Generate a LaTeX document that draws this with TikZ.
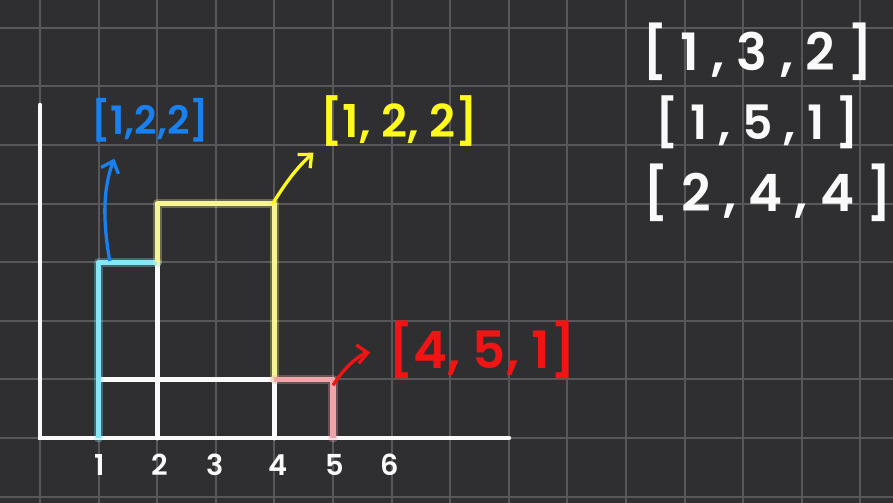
\documentclass[tikz,border=0pt]{standalone}
\usepackage{fontspec}
\setmainfont{Poppins}[BoldFont={Poppins SemiBold}]
\usetikzlibrary{arrows.meta}
\definecolor{board}{RGB}{47,46,49}
\definecolor{gridline}{RGB}{88,88,90}
\definecolor{chalk}{RGB}{250,250,250}
\definecolor{penblue}{RGB}{25,128,240}
\definecolor{penyellow}{RGB}{255,250,30}
\definecolor{penred}{RGB}{240,20,20}
\definecolor{hicyan}{RGB}{135,230,245}
\definecolor{hiyellow}{RGB}{245,245,150}
\definecolor{hired}{RGB}{240,165,170}
\tikzstyle{outline} = [line width=2.4pt, draw=chalk, line cap=round]
\tikzstyle{glow} = [line width=4.5pt, opacity=0.3, line cap=round, line join=round]
\tikzstyle{marker} = [line width=2.6pt, line join=round]
\tikzstyle{arrow} = [line width=1.6pt, -{Straight Barb[length=5pt,width=9pt]}]
\tikzstyle{tag} = [inner sep=0pt]
\tikzstyle{tick} = [text=chalk, font=\bfseries\fontsize{14}{14}\selectfont]
\tikzstyle{row} = [text=chalk, inner sep=0pt]

\begin{document}
\begin{tikzpicture}

      \fill [board] (-0.683,-1.109) rectangle (14.556,7.474);
      \useasboundingbox (-0.683,-1.109) rectangle (14.556,7.474);
      \foreach \i in {0,...,14} \draw [gridline, line width=1pt] (\i,-1.109) -- (\i,7.474);
      \foreach \j in {-1,...,7} \draw [gridline, line width=1pt] (-0.683,\j) -- (14.556,\j);

      % axes and white outline
      \draw [outline] (0,5.68) -- (0,0) -- (8,0);
      \draw [outline] (1,1) -- (4,1);
      \draw [outline] (2,0) -- (2,3);
      \draw [outline] (4,0) -- (4,1);

      % highlighted skyline
      \draw [glow, hicyan] (1,0) -- (1,3) -- (2,3);
      \draw [marker, hicyan] (1,0) -- (1,3) -- (2,3);
      \draw [glow, hiyellow] (2,3) -- (2,4) -- (4,4) -- (4,1);
      \draw [marker, hiyellow] (2,3) -- (2,4) -- (4,4) -- (4,1);
      \draw [glow, hired] (4,1) -- (5,1) -- (5,0);
      \draw [marker, hired] (4,1) -- (5,1) -- (5,0);

      \coordinate (bluecorner) at (1.19,3.02);
      \coordinate (yellowcorner) at (3.96,3.98);
      \coordinate (redcorner) at (5.0,0.9);

      % tick labels
      \node (t1) [tick] at (1.02,-0.46) {1};
      \node (t2) [tick] at (2.05,-0.46) {2};
      \node (t3) [tick] at (2.99,-0.46) {3};
      \node (t4) [tick] at (4.06,-0.46) {4};
      \node (t5) [tick] at (5.03,-0.46) {5};
      \node (t6) [tick] at (5.97,-0.46) {6};

      % coloured tags
      \node (bluetag) [tag, text=penblue, font=\bfseries\fontsize{19}{19}\selectfont] at (1.88,5.43) {[1,2,2]};
      \node (yellowtag) [tag, text=penyellow, font=\bfseries\fontsize{22}{22}\selectfont] at (6.13,5.41) {[1, 2, 2]};
      \node (redtag) [tag, text=penred, font=\bfseries\fontsize{25}{25}\selectfont] at (7.54,1.50) {[4, 5, 1]};

      % building list
      \node (row1) [row, font=\bfseries\fontsize{25}{25}\selectfont] at (12.25,6.59) {[ 1 , 3 , 2 ]};
      \node (row2) [row, font=\bfseries\fontsize{23}{23}\selectfont] at (12.24,5.39) {[ 1 , 5 , 1 ]};
      \node (row3) [row, font=\bfseries\fontsize{25}{25}\selectfont] at (12.42,4.18) {[ 2 , 4 , 4 ]};

      % Arrows
      \draw [arrow, penblue, shorten >=0.3cm] (bluecorner) to[bend left=15] ([xshift=0.5cm]bluetag.south west);
      \draw [arrow, penyellow, shorten >=0.15cm] (yellowcorner) to[bend left=8] (yellowtag.south west);
      \draw [arrow, penred, shorten >=0.3cm] (redcorner) to[bend left=25] (redtag.west);

\end{tikzpicture}
\end{document}
